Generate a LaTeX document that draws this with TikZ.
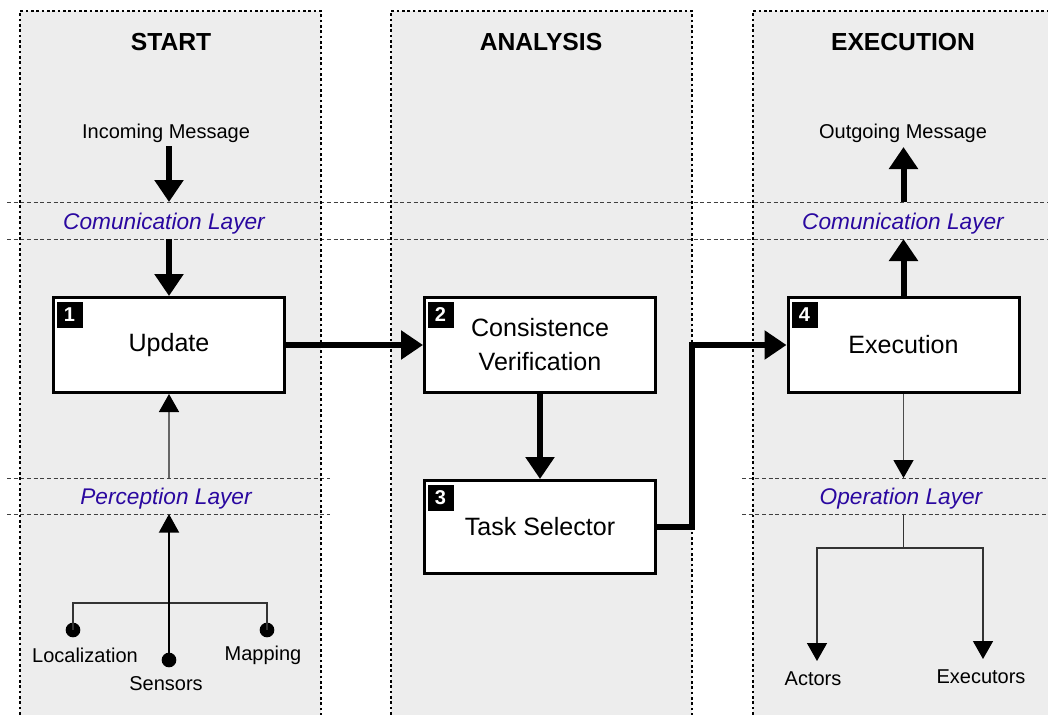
\documentclass[tikz,border=0pt]{standalone}
\usepackage{fontspec}
\setmainfont{Liberation Sans}
\usetikzlibrary{arrows.meta}
\definecolor{panelgray}{RGB}{237,237,237}
\definecolor{layerblue}{RGB}{42,8,160}
\begin{document}
\begin{tikzpicture}[x=0.75pt,y=-0.75pt,
  panelfill/.style={fill=panelgray},
  panelborder/.style={draw=black, line width=1.5pt, dash pattern=on 2pt off 2pt},
  layerline/.style={draw=black!75, line width=0.75pt, dash pattern=on 3pt off 2pt},
  title/.style={font=\fontsize{18.5}{22}\selectfont\bfseries},
  lbl/.style={font=\fontsize{15}{18}\selectfont},
  layer/.style={font=\fontsize{17}{20}\selectfont\itshape, text=layerblue},
  stepbox/.style={draw, line width=2.25pt, fill=white, minimum width=173.25pt, minimum height=71.25pt, font=\fontsize{18.8}{25.5}\selectfont, align=center},
  numbox/.style={fill=black, text=white, font=\fontsize{15}{15}\selectfont\bfseries, minimum size=19.5pt, inner sep=0pt},
  bigarrow/.style={line width=4.5pt, -{Triangle[length=16.5pt,width=21pt]}},
  thinarrow/.style={line width=1.1pt, -{Triangle[length=13.5pt,width=15pt,color=black]}},
  dotnode/.style={circle, fill=black, minimum size=11pt, inner sep=0pt}
]
\useasboundingbox (0,0) rectangle (1048,714);
\clip (0,0) rectangle (1048,714);
% panels
\fill[panelfill] (20,11) rectangle (321,720);
\fill[panelfill] (391,11) rectangle (692,720);
\fill[panelfill] (753,11) rectangle (1060,720);
% layer lines
\draw[layerline] (7,202) -- (1048,202);
\draw[layerline] (7,239) -- (1048,239);
\draw[layerline] (7,478) -- (330,478);
\draw[layerline] (7,514) -- (330,514);
\draw[layerline] (742,478) -- (1048,478);
\draw[layerline] (742,514) -- (1048,514);
% panel borders
\draw[panelborder] (20,720) -- (20,11) -- (321,11) -- (321,720);
\draw[panelborder] (391,720) -- (391,11) -- (692,11) -- (692,720);
\draw[panelborder] (753,720) -- (753,11) -- (1060,11);
% titles
\node[title] (t1) at (171,42) {START};
\node[title] (t2) at (541,42) {ANALYSIS};
\node[title] (t3) at (903,42) {EXECUTION};
% layer labels
\node[layer] (cl1) at (164,223.5) {Comunication Layer};
\node[layer] (cl3) at (903,223.5) {Comunication Layer};
\node[layer] (pl) at (166,498.5) {Perception Layer};
\node[layer] (ol) at (901,498.5) {Operation Layer};
% messages
\node[lbl] (inmsg) at (166,133) {Incoming Message};
\node[lbl] (outmsg) at (903,133) {Outgoing Message};
% boxes
\node[stepbox] (update) at (169,345) {\raisebox{-3pt}{Update}};
\node[stepbox] (consist) at (540,345) {Consistence\\Verification};
\node[stepbox, minimum height=69.75pt] (task) at (540,527) {\raisebox{-1.5pt}{Task Selector}};
\node[stepbox] (exec) at (903.5,345) {\raisebox{-1.5pt}{Execution}};
\node[numbox] (n1) at (69.5,315) {1};
\node[numbox] (n2) at (440.5,315) {2};
\node[numbox] (n3) at (440.5,498) {3};
\node[numbox] (n4) at (804.5,315) {4};
% coordinates
\coordinate (instart) at (169,146);
\coordinate (cl1top) at (169,202);
\coordinate (cl1bot) at (169,239);
\coordinate (outtip) at (903.5,147);
\coordinate (cl3top) at (903.5,202);
\coordinate (cl3bot) at (903.5,239);
\coordinate (pltop) at (169,478);
\coordinate (plbot) at (169,514);
\coordinate (junc) at (169,603);
\coordinate (bendtop) at (692,345);
\coordinate (oltop) at (903.5,478);
\coordinate (olbot) at (903.5,514);
\coordinate (opjunc) at (903.5,548);
\coordinate (acttip) at (817,661);
\coordinate (exetip) at (983,659);
% perception inputs
\node[dotnode] (locdot) at (73,630) {};
\node[dotnode] (sendot) at (169,660) {};
\node[dotnode] (mapdot) at (267,630) {};
\node[lbl] (loc) at (85,655) {Localization};
\node[lbl] (sen) at (166,684) {Sensors};
\node[lbl] (map) at (263,655) {Mapping};
\node[lbl] (act) at (813,679) {Actors};
\node[lbl] (exe) at (981,677) {Executors};
% connectors
\draw[bigarrow] (instart) -- (cl1top);
\draw[bigarrow] (cl1bot) -- (update.north);
\draw[bigarrow] (update.east) -- (consist.west);
\draw[bigarrow] (consist.south) -- (task.north);
\draw[bigarrow, line join=miter] (task.east) -| (bendtop) -- (exec.west);
\draw[bigarrow] (exec.north) -- (cl3bot);
\draw[bigarrow] (cl3top) -- (outtip);
\draw[thinarrow, draw=black!60] (pltop) -- (update.south);
\draw[line width=1.1pt, black!80] (locdot.center) |- (junc) -| (mapdot.center);
\draw[line width=1.5pt, -{Triangle[length=14pt,width=15pt]}] (sendot.center) -- (plbot);
\draw[thinarrow, draw=black!70] (exec.south) -- (oltop);
\draw[line width=1.1pt, black!80] (olbot) -- (opjunc);
\draw[thinarrow, draw=black!80] (opjunc) -| (acttip);
\draw[thinarrow, draw=black!80] (opjunc) -| (exetip);
\end{tikzpicture}
\end{document}
